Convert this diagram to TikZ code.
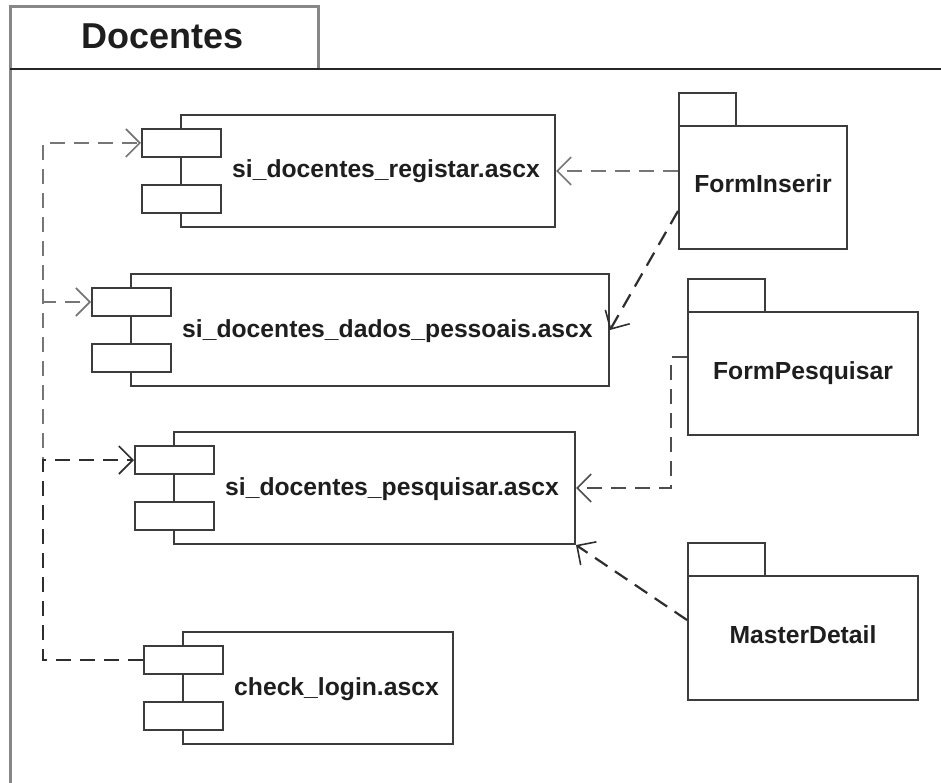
\documentclass[tikz,border=0pt]{standalone}
\usepackage{fontspec}
\setmainfont{Liberation Sans}
\usetikzlibrary{arrows.meta,calc}

\definecolor{edge}{HTML}{3C3C3C}
\definecolor{framegray}{HTML}{878787}
\definecolor{depgray}{HTML}{767676}
\definecolor{depdark}{HTML}{2E2E2E}
\definecolor{inkgray}{HTML}{1E1E1E}

\tikzset{
  compbody/.style={draw=edge, line width=2pt, fill=white, inner sep=0pt, anchor=north west},
  compport/.style={draw=edge, line width=2pt, fill=white, inner sep=0pt, anchor=north west,
    minimum width=79pt, minimum height=28pt},
  pkgtab/.style={draw=edge, line width=2pt, fill=white, inner sep=0pt, anchor=north west},
  lbl/.style={font=\fontsize{24.7}{30}\selectfont\bfseries, text=inkgray, inner sep=0pt},
  dep/.style={line width=2.2pt, dash pattern=on 15pt off 9pt,
    -{Straight Barb[length=14pt,width=28pt,line width=1.6pt]}},
}

% UML component: name, left, top, width, label
\newcommand\umlcomp[5]{%
  \node[compbody, minimum width=#4pt, minimum height=112pt] (#1) at (#2,#3) {};
  \node[compport] (#1-p1) at ({#2-39},{#3+14}) {};
  \node[compport] (#1-p2) at ({#2-39},{#3+70}) {};
  \node[lbl, anchor=base west] (#1-l) at ({#2+52},{#3+64}) {#5};
}

% UML package: name, left, body top, tab width, body width, body height, label
\newcommand\umlpkg[7]{%
  \node[pkgtab, minimum width=#4pt, minimum height=33pt] (#1-tab) at (#2,{#3-33}) {};
  \node[compbody, minimum width=#5pt, minimum height=#6pt] (#1) at (#2,#3) {};
  \node[lbl, anchor=base] (#1-l) at ($(#1.north)+(0,68)$) {#7};
}

\begin{document}
\begin{tikzpicture}[x=1pt, y=-1pt]
  \useasboundingbox (0,0) rectangle (941,783);

  % enclosing package frame
  \draw[framegray, line width=3pt] (10,783) -- (10,7) -- (318,7) -- (318,69);
  \draw[black!85, line width=1.6pt] (10,69) -- (941,69);
  \node[font=\fontsize{36}{42}\selectfont\bfseries, text=inkgray, inner sep=0pt, anchor=base]
    (title) at (163,49) {Docentes};

  % components
  \umlcomp{reg}{180}{114}{374}{si\_docentes\_registar.ascx}
  \umlcomp{dp}{130}{273}{478}{si\_docentes\_dados\_pessoais.ascx}
  \umlcomp{pq}{173}{431}{401}{si\_docentes\_pesquisar.ascx}
  \umlcomp{cl}{182}{631}{270}{check\_login.ascx}

  % forms
  \umlpkg{fi}{678}{125}{57}{168}{123}{FormInserir}
  \umlpkg{fp}{687}{311}{77}{230}{123}{FormPesquisar}
  \umlpkg{md}{687}{575}{77}{230}{124}{MasterDetail}

  % dependencies of the forms
  \draw[dep, depgray] (fi.west |- reg.east) -- (reg.east);
  \draw[dep, depdark] ([yshift=-23.5pt]fi.west) -- (dp.east);
  \draw[dep, depdark!85!white] ([yshift=16.5pt]fp.west) -- ++(-16,0) |- (pq.east);
  \draw[dep, depdark] ([yshift=18pt]md.west) -- (pq.south east);

  % check_login bus
  \coordinate (bus) at (43,0);
  \draw[dep, depgray] (cl-p1.west) -- (cl-p1.west -| bus) |- (reg-p1.west);
  \draw[dep, depgray] (cl-p1.west) -- (cl-p1.west -| bus) |- (dp-p1.west);
  \draw[dep, depdark, line width=2.8pt] (cl-p1.west) -- (cl-p1.west -| bus) |- (pq-p1.west);
\end{tikzpicture}
\end{document}
